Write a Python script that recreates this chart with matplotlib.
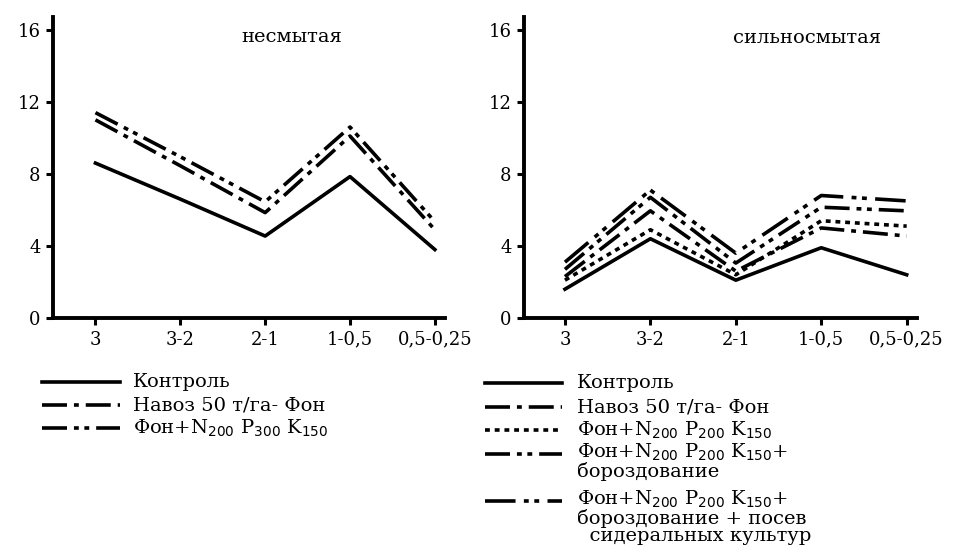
"""
Aggregate size distribution (%) for unwashed vs strongly washed soil, two panels
with black line styles and a hand-placed legend under each panel.
"""

import matplotlib
matplotlib.use("Agg")
import matplotlib.pyplot as plt
from matplotlib.lines import Line2D

plt.rcParams["font.family"] = ["DejaVu Serif"]
plt.rcParams["mathtext.fontset"] = "custom"
plt.rcParams["mathtext.rm"] = "DejaVu Sans"
plt.rcParams["lines.scale_dashes"] = False

# ---- data ----
sizes = ["3", "3-2", "2-1", "1-0,5", "0,5-0,25"]

left_title = "несмытая"
left_control = [8.6, 6.6, 4.55, 7.85, 3.8]
left_manure = [11.0, 8.45, 5.85, 10.1, 4.9]
left_npk = [11.4, 8.95, 6.45, 10.6, 5.35]

right_title = "сильносмытая"
right_control = [1.6, 4.4, 2.1, 3.9, 2.4]
right_manure = [2.3, 5.95, 2.6, 5.0, 4.55]
right_npk = [2.1, 4.9, 2.4, 5.4, 5.1]
right_furrow = [2.7, 6.7, 3.05, 6.15, 5.95]
right_green = [3.1, 7.1, 3.6, 6.8, 6.5]

left_labels = ["Контроль", "Навоз 50 т/га- Фон",
               "Фон+N$_{200}$ P$_{300}$ K$_{150}$"]
right_labels = ["Контроль", "Навоз 50 т/га- Фон",
                "Фон+N$_{200}$ P$_{200}$ K$_{150}$",
                "Фон+N$_{200}$ P$_{200}$ K$_{150}$+\nбороздование",
                "Фон+N$_{200}$ P$_{200}$ K$_{150}$+\nбороздование + посев\n  сидеральных культур"]

# ---- styles ----
LW = 2.6
SOLID = "-"
DASH_DOT = (0, (18, 5, 3.5, 5))
DASH_DOT_DOT = (0, (18, 5, 3.5, 4, 3.5, 5))
DOTTED = (0, (3.5, 3.5))
LONG_DDOT = (0, (22, 6, 3.5, 4, 3.5, 6))

x = list(range(1, len(sizes) + 1))

fig = plt.figure(figsize=(9.66, 5.52), dpi=100)
ax_l = fig.add_axes([0.0549, 0.4239, 0.4058, 0.545])
ax_r = fig.add_axes([0.5424, 0.4239, 0.4068, 0.545])


def style_axes(ax, xmin):
    ax.set_xlim(xmin, 5.12)
    ax.set_ylim(0, 16.7)
    ax.set_xticks(x)
    ax.set_xticklabels(sizes)
    ax.set_yticks([0, 4, 8, 12, 16])
    ax.tick_params(axis="both", width=2.2, length=5, direction="out",
                   labelsize=13, pad=4)
    for side in ("top", "right"):
        ax.spines[side].set_visible(False)
    for side in ("left", "bottom"):
        ax.spines[side].set_linewidth(2.8)


ax_l.plot(x, left_control, color="black", lw=LW, linestyle=SOLID)
ax_l.plot(x, left_manure, color="black", lw=LW, linestyle=DASH_DOT)
ax_l.plot(x, left_npk, color="black", lw=LW, linestyle=DASH_DOT_DOT)
style_axes(ax_l, 0.5)
ax_l.text(0.61, 0.935, left_title, transform=ax_l.transAxes, ha="center",
          va="center", fontsize=14)

ax_r.plot(x, right_control, color="black", lw=LW, linestyle=SOLID)
ax_r.plot(x, right_manure, color="black", lw=LW, linestyle=DASH_DOT)
ax_r.plot(x, right_npk, color="black", lw=LW, linestyle=DOTTED)
ax_r.plot(x, right_furrow, color="black", lw=LW, linestyle=DASH_DOT_DOT)
ax_r.plot(x, right_green, color="black", lw=LW, linestyle=LONG_DDOT)
style_axes(ax_r, 0.52)
ax_r.text(0.72, 0.932, right_title, transform=ax_r.transAxes, ha="center",
          va="center", fontsize=14)


# ---- hand-made legends (figure pixels -> fraction) ----
W, H = 966, 552


def legend_line(x0, x1, y, style):
    fy = 1 - y / H
    fig.add_artist(Line2D([x0 / W, x1 / W], [fy, fy], color="black", lw=LW,
                          linestyle=style, transform=fig.transFigure))


left_styles = [SOLID, DASH_DOT, DASH_DOT_DOT]
left_rows = [382, 405, 428]
for st, lab, yy in zip(left_styles, left_labels, left_rows):
    legend_line(42, 120, yy, st)
    fig.text(133 / W, 1 - yy / H, lab, ha="left", va="center", fontsize=14)

right_styles = [SOLID, DASH_DOT, DOTTED, DASH_DOT_DOT, LONG_DDOT]
right_rows = [383, 407, 430, 454, 501]
for st, lab, yy in zip(right_styles, right_labels, right_rows):
    legend_line(485, 562, yy, st)
    if "\n" in lab:
        fig.text(577 / W, 1 - (yy - 12) / H, lab, ha="left", va="top",
                 fontsize=14, linespacing=0.92)
    else:
        fig.text(577 / W, 1 - yy / H, lab, ha="left", va="center", fontsize=14)

fig.savefig("out.png", dpi=100)
